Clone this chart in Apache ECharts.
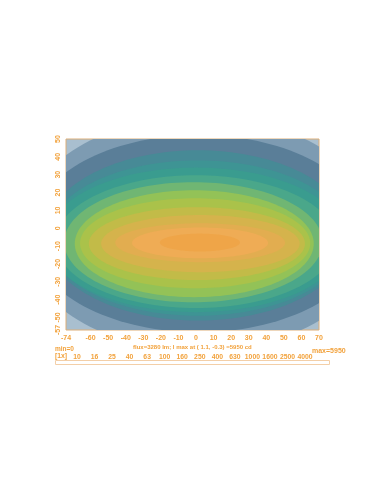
<!DOCTYPE html>
<html><head><meta charset="utf-8">
<script src="https://cdn.jsdelivr.net/npm/echarts@6/dist/echarts.min.js"></script>
<style>html,body{margin:0;padding:0;background:#fff}#c{width:381px;height:492px}</style>
</head><body><div id="c"></div>
<script>
// Axis tick labels
const xTicks = [-74,-60,-50,-40,-30,-20,-10,0,10,20,30,40,50,60,70];
const yTicks = [-57,-50,-40,-30,-20,-10,0,10,20,30,40,50];
// Contour levels (cd) and the iso-line extents (degrees)
const levels  = [10,16,25,40,63,100,160,250,400,630,1000,1600,2500,4000];
const levelCx = [1.75,1.5,1,1,0,0,-1.5,-1,-0.5,0.5,2.5,2.35,2.3,2.2];
const levelCy = [-3,-3,-4,-5.5,-6.5,-7.5,-7.85,-8.65,-8.4,-8.6,-8.6,-8.1,-8.2,-8];
const levelA  = [102,96.4,87.4,85.8,85.1,79.9,73.5,68,65.5,61.5,56.5,48.3,38.7,22.8];
const levelB  = [65.7,55.3,47.7,43.5,40.5,37.2,33.65,29.95,25.2,20.4,16,10.9,8.6,5];
// Band colours: below first level, then above each level
const bandColors = ['#a9bfcf','#7d9bb2','#5a7e98','#478a96','#3e9494','#3a9c8f','#4aa78a','#70b673','#93c257','#aac24a','#c2bb48','#d5b34c','#e2ad50','#efac55','#efa548'];
const legendIdx = levels.map((v,i)=>i);

const orange = '#f2a23c';
const FF = '"Liberation Sans", Arial, sans-serif';
const chart = echarts.init(document.getElementById('c'), null, {renderer:'canvas'});
const contourData = levels.map((lv,i)=>[levelCx[i], levelCy[i], levelA[i], levelB[i], i]);

chart.setOption({
  animation:false,
  grid:[
    {left:66, top:139, width:253, height:191, show:true, backgroundColor:bandColors[0], borderColor:'#dcae78', borderWidth:1},
    {left:77, top:352, width:228, height:1, show:false}
  ],
  xAxis:[
    {gridIndex:0, type:'value', min:-74, max:70, axisLine:{show:false}, axisTick:{show:false}, splitLine:{show:false},
     axisLabel:{customValues:xTicks, showMinLabel:true, showMaxLabel:true, color:orange, fontSize:7, fontWeight:'bold', fontFamily:FF, margin:5}},
    {gridIndex:1, type:'value', min:0, max:13, axisLine:{show:false}, axisTick:{show:false}, splitLine:{show:false},
     axisLabel:{customValues:legendIdx, showMinLabel:true, showMaxLabel:true, formatter:(v)=>String(levels[Math.round(v)]), color:orange, fontSize:6.8, fontWeight:'bold', fontFamily:FF, margin:1}}
  ],
  yAxis:[
    {gridIndex:0, type:'value', min:-57, max:50, axisLine:{show:false}, axisTick:{show:false}, splitLine:{show:false},
     axisLabel:{customValues:yTicks, showMinLabel:true, showMaxLabel:true, rotate:90, color:orange, fontSize:7, fontWeight:'bold', fontFamily:FF, margin:4}},
    {gridIndex:1, type:'value', show:false}
  ],
  series:[{
    type:'custom', xAxisIndex:0, yAxisIndex:0, clip:true,
    data:contourData,
    renderItem:function(params, api){
      const c = api.coord([api.value(0), api.value(1)]);
      const s = api.size([api.value(2), api.value(3)]);
      const idx = api.value(4);
      const pts = [];
      for(let k=0;k<144;k++){
        const t = k/144*Math.PI*2;
        pts.push([c[0]+s[0]*Math.cos(t), c[1]+s[1]*Math.sin(t)]);
      }
      const cs = params.coordSys;
      return {type:'polygon', shape:{points:pts}, style:{fill:bandColors[idx+1], stroke:null},
        clipPath:{type:'rect', shape:{x:cs.x, y:cs.y, width:cs.width, height:cs.height}}};
    }
  }],
  graphic:[
    {type:'text', left:133, top:344, style:{text:'flux=3280 lm; I max at ( 1.1, -0.3) =5950 cd', fill:orange, font:'bold 6px ' + FF}},
    {type:'text', left:55, top:346, style:{text:'min=0', fill:orange, font:'bold 6.5px ' + FF}},
    {type:'text', left:55, top:353, style:{text:'[1x]', fill:orange, font:'bold 6.8px ' + FF}},
    {type:'text', left:312, top:348, style:{text:'max=5950', fill:orange, font:'bold 7px ' + FF}},
    {type:'rect', shape:{x:55.5, y:360.5, width:274, height:4}, style:{fill:'none', stroke:'#f3cfa8', lineWidth:1}}
  ]
});
</script></body></html>
